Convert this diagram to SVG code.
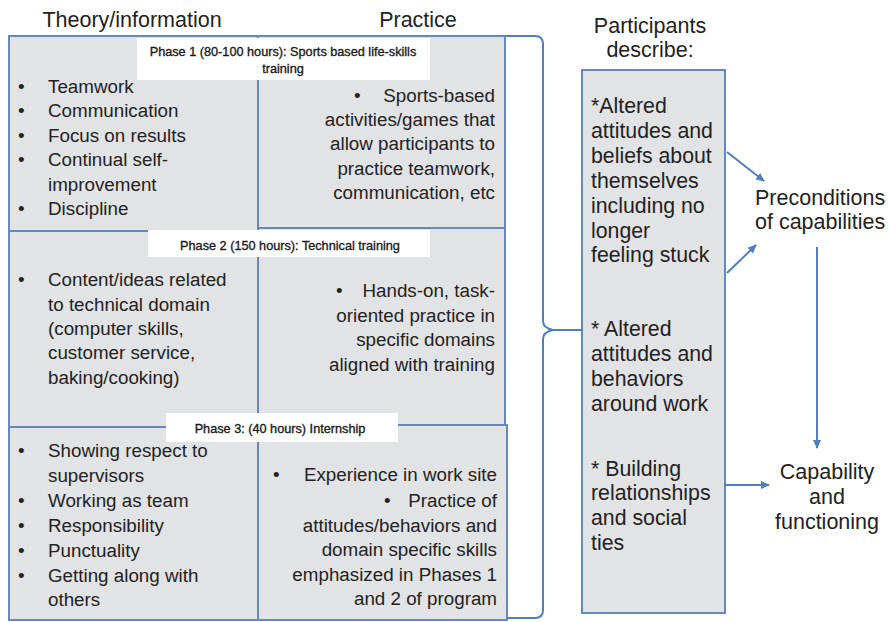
<svg xmlns="http://www.w3.org/2000/svg" width="888" height="622" viewBox="0 0 888 622">
<defs>
<style>
.cell{fill:#e2e3e5;stroke:#6688c0;stroke-width:2}
.lbl{fill:#ffffff}
text{font-family:"Liberation Sans",Arial,sans-serif;fill:#222222}
.hd{font-size:21.5px}
.b{font-size:18.8px}
.p{font-size:21.3px}
.ph{font-size:12.7px;fill:#1a1a1a;stroke:#1a1a1a;stroke-width:0.35px}
.r{text-anchor:end}
.c{text-anchor:middle}
.con{fill:none;stroke:#4f7fbf;stroke-width:2}
</style>
<marker id="ah" viewBox="0 0 10 10" refX="8" refY="5" markerWidth="5" markerHeight="5" orient="auto" markerUnits="strokeWidth">
<path d="M0,1 L9,5 L0,9 z" fill="#4f7fbf"/>
</marker>
</defs>
<rect width="888" height="622" fill="#ffffff"/>

<g id="headers">
<text class="hd c" x="132" y="27">Theory/information</text>
<text class="hd c" x="418" y="27">Practice</text>
<text class="hd c" x="650" y="33">Participants</text>
<text class="hd c" x="650" y="57">describe:</text>
</g>

<g id="phase1-theory">
<rect class="cell" x="9" y="36" width="249" height="195"/>
<text class="b" x="18" y="93">•</text><text class="b" x="48" y="93">Teamwork</text>
<text class="b" x="18" y="117">•</text><text class="b" x="48" y="117">Communication</text>
<text class="b" x="18" y="142">•</text><text class="b" x="48" y="142">Focus on results</text>
<text class="b" x="18" y="166">•</text><text class="b" x="48" y="166">Continual self-</text>
<text class="b" x="48" y="191">improvement</text>
<text class="b" x="18" y="215">•</text><text class="b" x="48" y="215">Discipline</text>
</g>

<g id="phase1-practice">
<rect class="cell" x="258" y="36" width="247" height="192"/>
<text class="b" x="354" y="102">•</text>
<text class="b r" x="495" y="102">Sports-based</text>
<text class="b r" x="495" y="126">activities/games that</text>
<text class="b r" x="495" y="150">allow participants to</text>
<text class="b r" x="495" y="175">practice teamwork,</text>
<text class="b r" x="495" y="199">communication, etc</text>
</g>

<g id="phase2-theory">
<rect class="cell" x="9" y="231" width="249" height="196"/>
<text class="b" x="18" y="286">•</text><text class="b" x="48" y="286">Content/ideas related</text>
<text class="b" x="48" y="311">to technical domain</text>
<text class="b" x="48" y="335">(computer skills,</text>
<text class="b" x="48" y="359">customer service,</text>
<text class="b" x="48" y="384">baking/cooking)</text>
</g>

<g id="phase2-practice">
<rect class="cell" x="258" y="228" width="247" height="197"/>
<text class="b" x="336" y="297">•</text>
<text class="b r" x="495" y="297">Hands-on, task-</text>
<text class="b r" x="495" y="322">oriented practice in</text>
<text class="b r" x="495" y="346">specific domains</text>
<text class="b r" x="495" y="371">aligned with training</text>
</g>

<g id="phase3-theory">
<rect class="cell" x="9" y="427" width="249" height="193"/>
<text class="b" x="18" y="457">•</text><text class="b" x="48" y="457">Showing respect to</text>
<text class="b" x="48" y="482">supervisors</text>
<text class="b" x="18" y="507">•</text><text class="b" x="48" y="507">Working as team</text>
<text class="b" x="18" y="532">•</text><text class="b" x="48" y="532">Responsibility</text>
<text class="b" x="18" y="557">•</text><text class="b" x="48" y="557">Punctuality</text>
<text class="b" x="18" y="582">•</text><text class="b" x="48" y="582">Getting along with</text>
<text class="b" x="48" y="606">others</text>
</g>

<g id="phase3-practice">
<rect class="cell" x="258" y="425" width="249" height="195"/>
<text class="b" x="273" y="481">•</text>
<text class="b r" x="497" y="481">Experience in work site</text>
<text class="b" x="384" y="507">•</text>
<text class="b r" x="497" y="507">Practice of</text>
<text class="b r" x="497" y="532">attitudes/behaviors and</text>
<text class="b r" x="497" y="556">domain specific skills</text>
<text class="b r" x="497" y="581">emphasized in Phases 1</text>
<text class="b r" x="497" y="605">and 2 of program</text>
</g>

<g id="phase1-label">
<rect class="lbl" x="137" y="38" width="293" height="42"/>
<text class="ph c" x="283" y="56">Phase 1 (80-100 hours): Sports based life-skills</text>
<text class="ph c" x="283" y="73">training</text>
</g>

<g id="phase2-label">
<rect class="lbl" x="148" y="230" width="282" height="27"/>
<text class="ph c" x="290" y="250">Phase 2 (150 hours): Technical training</text>
</g>

<g id="phase3-label">
<rect class="lbl" x="166" y="413" width="232" height="29"/>
<text class="ph c" x="280" y="433">Phase 3: (40 hours) Internship</text>
</g>

<g id="participants">
<rect class="cell" x="582" y="70" width="143" height="543"/>
<text class="p" x="591" y="113">*Altered</text>
<text class="p" x="591" y="138">attitudes and</text>
<text class="p" x="591" y="163">beliefs about</text>
<text class="p" x="591" y="188">themselves</text>
<text class="p" x="591" y="213">including no</text>
<text class="p" x="591" y="238">longer</text>
<text class="p" x="591" y="262">feeling stuck</text>
<text class="p" x="591" y="336">* Altered</text>
<text class="p" x="591" y="361">attitudes and</text>
<text class="p" x="591" y="386">behaviors</text>
<text class="p" x="591" y="411">around work</text>
<text class="p" x="591" y="476">* Building</text>
<text class="p" x="591" y="500">relationships</text>
<text class="p" x="591" y="525">and social</text>
<text class="p" x="591" y="550">ties</text>
</g>

<g id="preconditions">
<text class="hd" x="755" y="205">Preconditions</text>
<text class="hd" x="755" y="229">of capabilities</text>
</g>

<g id="capability">
<text class="hd c" x="827" y="479">Capability</text>
<text class="hd c" x="827" y="504">and</text>
<text class="hd c" x="827" y="529">functioning</text>
</g>

<g id="connectors">
<path class="con" d="M505,36 L535,36 Q543,36 543,44 L543,321 Q543,328 553,330 Q543,332 543,339 L543,610 Q543,618 535,618 L507,618"/>
<path class="con" d="M553,330 L582,330"/>
<path class="con" d="M727,152 L764,181" marker-end="url(#ah)"/>
<path class="con" d="M727,273 L756,245" marker-end="url(#ah)"/>
<path class="con" d="M817,247 L817,448" marker-end="url(#ah)"/>
<path class="con" d="M724,485 L769,485" marker-end="url(#ah)"/>
</g>
</svg>
